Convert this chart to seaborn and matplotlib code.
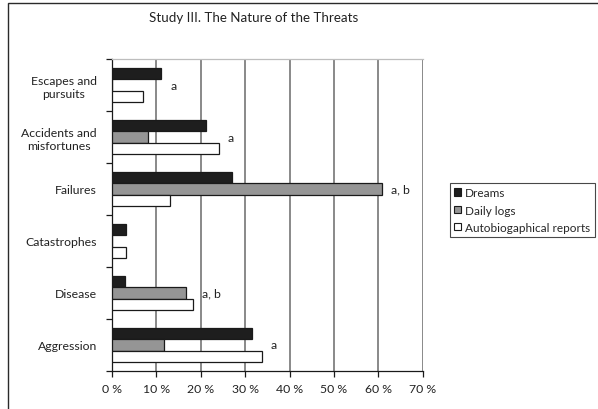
import matplotlib
matplotlib.use("Agg")
import matplotlib.pyplot as plt
from matplotlib.patches import Patch, Rectangle
import seaborn as sns
import pandas as pd

# Threat categories (top to bottom) and percentages per source
categories = ["Escapes and\npursuits", "Accidents and\nmisfortunes", "Failures",
              "Catastrophes", "Disease", "Aggression"]
sources = ["Dreams", "Daily logs", "Autobiogaphical reports"]
dreams = [11.1, 21.1, 27.0, 3.2, 2.9, 31.5]
daily_logs = [0.0, 8.0, 60.9, 0.0, 16.6, 11.7]
autobio = [7.0, 24.1, 13.1, 3.2, 18.2, 33.8]
significance = ["a", "a", "a, b", "", "a, b", "a"]
x_ticks = [0, 10, 20, 30, 40, 50, 60, 70]

sns.set_theme(style="white")
plt.rcParams["font.family"] = ["Lato", "DejaVu Sans"]

rows = []
for cat, d, l, a in zip(categories, dreams, daily_logs, autobio):
    rows.append({"category": cat, "source": sources[0], "value": d})
    rows.append({"category": cat, "source": sources[1], "value": l})
    rows.append({"category": cat, "source": sources[2], "value": a})
df = pd.DataFrame(rows)

palette = {sources[0]: "#1e1e1e", sources[1]: "#959595", sources[2]: "#ffffff"}
fs = 8.8

fig = plt.figure(figsize=(5.98, 4.10), dpi=100)
ax = fig.add_axes([112 / 598, 1 - 372 / 410, (422.7 - 112) / 598, (372 - 60) / 410])

sns.barplot(data=df, y="category", x="value", hue="source", order=categories,
            hue_order=sources, palette=palette, orient="h", width=0.635,
            edgecolor="#1a1a1a", linewidth=0.9, saturation=1, legend=False,
            ax=ax, zorder=3)

ax.set_xlim(0, 70)
ax.set_ylim(len(categories) - 0.5, -0.5)
ax.set_xticks(x_ticks)
ax.set_xticklabels([f"{t} %" for t in x_ticks])
ax.set_xlabel("")
ax.set_ylabel("")

# vertical gridlines
for t in x_ticks[1:]:
    ax.axvline(t, color="#6a6a6a", lw=1.1, zorder=1)

# y-axis ticks on category boundaries
ax.set_yticks([i - 0.5 for i in range(len(categories) + 1)], minor=True)
ax.set_yticks(range(len(categories)))
ax.set_yticklabels(categories, multialignment="center", fontsize=fs, color="#222222",
                   linespacing=1.25)
ax.tick_params(axis="y", which="major", length=0, pad=11)
ax.tick_params(axis="y", which="minor", length=4, width=0.9, color="#1a1a1a", direction="out", left=True)
ax.tick_params(axis="x", length=4, width=0.9, color="#1a1a1a", direction="out", bottom=True,
               labelsize=fs, labelcolor="#222222", pad=5)

for side in ["left", "bottom"]:
    ax.spines[side].set_color("#1a1a1a")
    ax.spines[side].set_linewidth(0.9)
ax.spines["right"].set_visible(False)
ax.spines["top"].set_color("#bdbdbd")
ax.spines["top"].set_linewidth(0.9)

# significance markers beside the middle bar of each group
for i, (lab, d, l, a) in enumerate(zip(significance, dreams, daily_logs, autobio)):
    if lab:
        ax.text(max(d, l, a) + 2.0, i, lab, va="center", ha="left",
                fontsize=fs, color="#222222")

fig.text(254 / 598, 1 - 18 / 410, "Study III. The Nature of the Threats",
         ha="center", va="center", fontsize=9.6, color="#222222")

handles = [Patch(facecolor=palette[s], edgecolor="#1a1a1a", linewidth=0.8, label=s) for s in sources]
leg = fig.legend(handles=handles, loc="upper left", bbox_to_anchor=(450 / 598, 1 - 184 / 410),
                 frameon=True, fancybox=False, fontsize=8.5, handlelength=0.55, handleheight=0.55,
                 handletextpad=0.4, borderpad=0.35, labelspacing=0.55, borderaxespad=0)
leg.get_frame().set_edgecolor("#1a1a1a")
leg.get_frame().set_linewidth(0.8)

# outer chart border
fig.patches.append(Rectangle((8 / 598, -0.1), 1.2, 1 - 4 / 410 + 0.1, transform=fig.transFigure,
                             fill=False, edgecolor="#2a2a2a", linewidth=1.0))

fig.savefig("out.png", dpi=100)
